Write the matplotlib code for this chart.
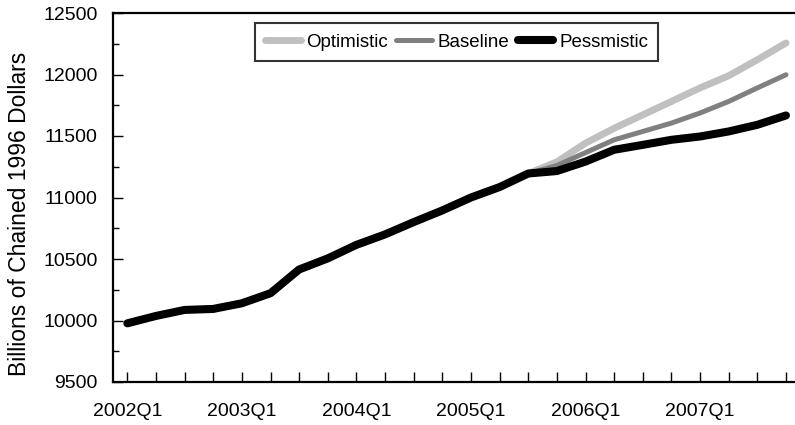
import matplotlib
matplotlib.use("Agg")
import matplotlib.pyplot as plt
from matplotlib.ticker import MultipleLocator, FixedLocator

plt.rcParams['font.family'] = ['Liberation Sans', 'DejaVu Sans']

quarters = [f"{y}Q{q}" for y in range(2002, 2008) for q in range(1, 5)]

history = [9977, 10037, 10086, 10094, 10140, 10222, 10415, 10505, 10615,
           10700, 10800, 10895, 11000, 11085, 11195]
optimistic_fc = [11290, 11442, 11563, 11672, 11781, 11891, 11990, 12120, 12256]
baseline_fc = [11260, 11365, 11469, 11537, 11605, 11687, 11781, 11891, 11998]
pessimistic_fc = [11215, 11292, 11388, 11428, 11469, 11496, 11537, 11591, 11667]

optimistic = history + optimistic_fc
baseline = history + baseline_fc
pessimistic = history + pessimistic_fc

x = list(range(len(quarters)))

fig = plt.figure(figsize=(7.95, 4.25), dpi=100)
ax = fig.add_axes([113/795, 43/425, (800.3-113)/795, (382-13)/425])

ax.plot(x, optimistic, color='#c0c0c0', lw=5.0, solid_capstyle='round', solid_joinstyle='round', label='Optimistic', zorder=2)
ax.plot(x, baseline, color='#808080', lw=3.6, solid_capstyle='round', solid_joinstyle='round', label='Baseline', zorder=3)
ax.plot(x, pessimistic, color='#000000', lw=5.8, solid_capstyle='round', solid_joinstyle='round', label='Pessmistic', zorder=4)

ax.set_xlim(-0.5, 23.5)
ax.set_ylim(9500, 12500)
ax.yaxis.set_major_locator(MultipleLocator(500))
ax.yaxis.set_minor_locator(MultipleLocator(250))
ax.xaxis.set_major_locator(FixedLocator(x))
ax.set_xticklabels([q if i % 4 == 0 else '' for i, q in enumerate(quarters)])

ax.tick_params(axis='both', which='major', direction='in', length=7.2, width=1.0, labelsize=14)
ax.tick_params(axis='y', which='minor', direction='in', length=4.3, width=1.0)
ax.tick_params(axis='x', which='major', pad=15)
ax.tick_params(axis='y', which='major', pad=11)

for s in ['left', 'bottom', 'top']:
    ax.spines[s].set_linewidth(1.6)
ax.spines['right'].set_visible(False)

ax.set_ylabel('Billions of Chained 1996 Dollars', fontsize=16.5)
ax.yaxis.set_label_coords(-0.119, 0.455)

leg = fig.legend(loc='center', bbox_to_anchor=(456.5/795, 1-42/425), ncol=3, fontsize=13.5,
                 frameon=True, fancybox=False, edgecolor='black', handlelength=1.9,
                 handletextpad=0.3, columnspacing=0.45, borderpad=0.55)
leg.get_frame().set_linewidth(1.5)
for ln in leg.get_lines():
    ln.set_solid_capstyle('round')

fig.savefig('out.png', dpi=100)
